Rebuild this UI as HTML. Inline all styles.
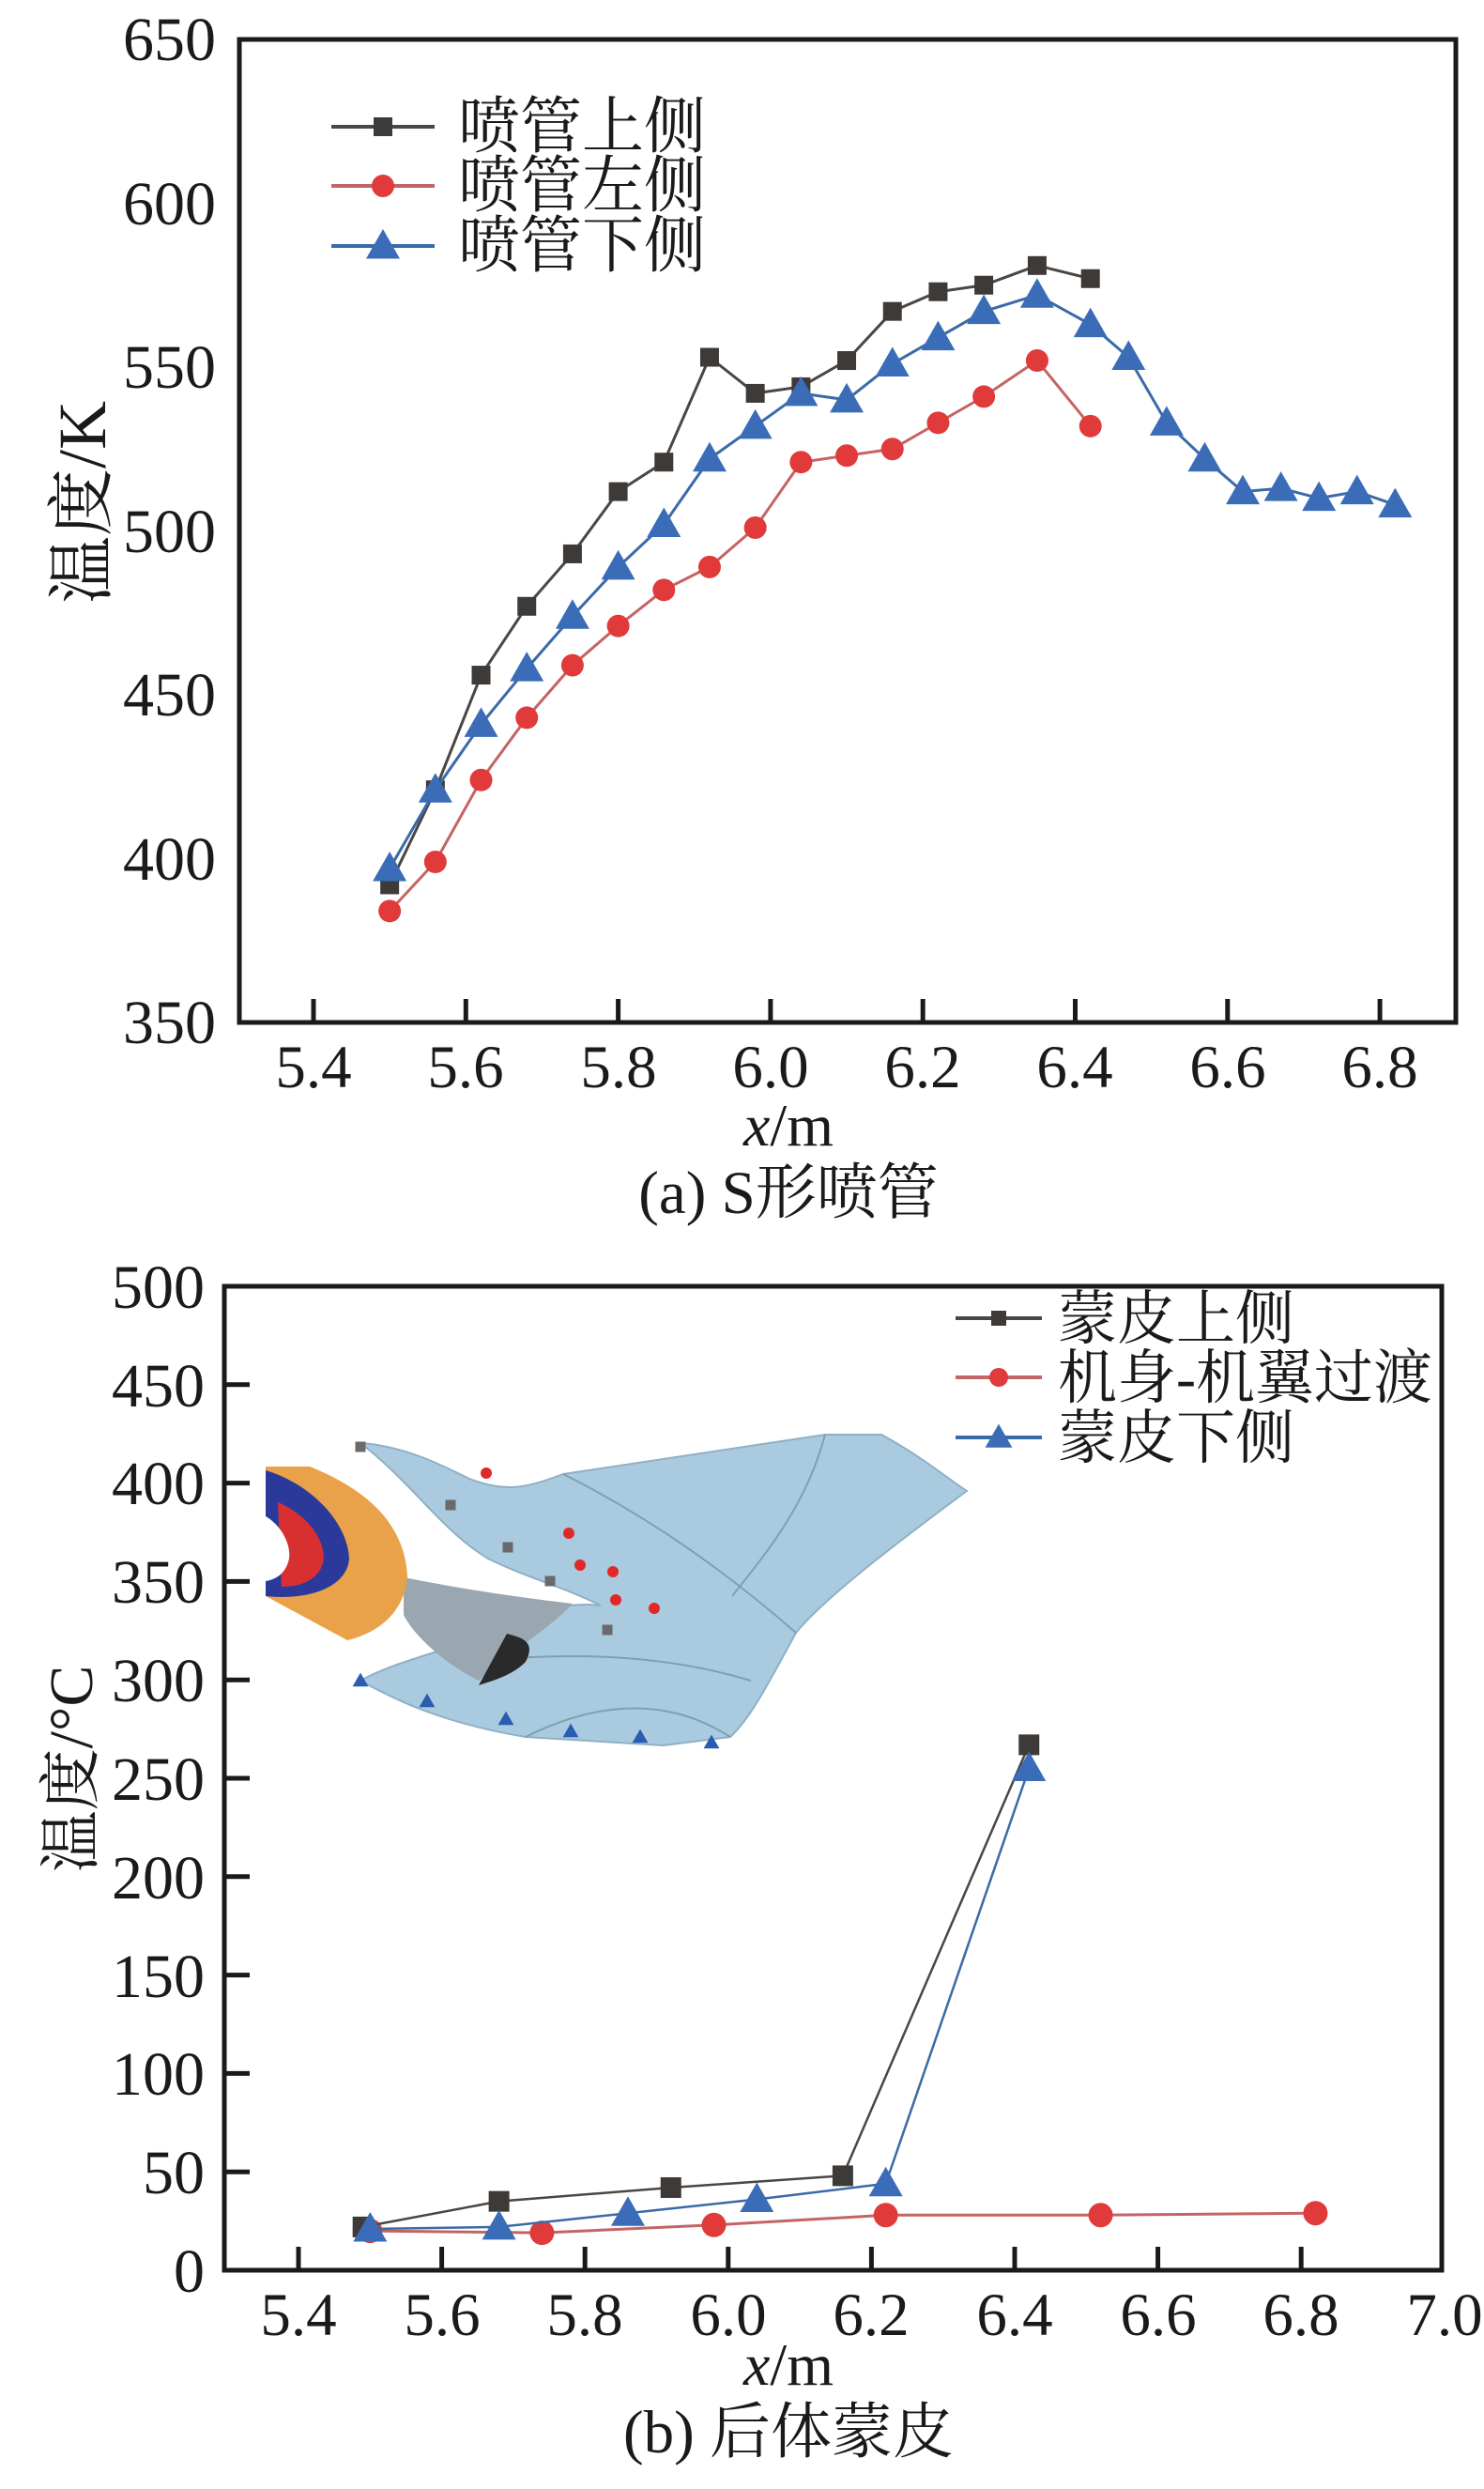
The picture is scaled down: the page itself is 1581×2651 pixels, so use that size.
<!DOCTYPE html>
<html><head><meta charset="utf-8"><style>
html,body{margin:0;padding:0;background:#fff;}
svg{display:block;}
text{font-family:"Liberation Serif","Noto Serif CJK SC",serif;fill:#1a1a1a;}
.cj{font-family:"Liberation Serif","Noto Serif CJK SC","Noto Sans CJK SC",serif;}
</style></head><body>
<svg id="s" width="1581" height="2651" viewBox="0 0 1581 2651" xmlns="http://www.w3.org/2000/svg">
<rect x="255" y="42" width="1296" height="1047" fill="none" stroke="#1a1a1a" stroke-width="5"/>
<g font-size="66" text-anchor="end">
<text x="230" y="64">650</text><text x="230" y="239">600</text><text x="230" y="413">550</text>
<text x="230" y="588">500</text><text x="230" y="762">450</text><text x="230" y="937">400</text><text x="230" y="1111">350</text>
</g>
<g font-size="65" text-anchor="middle">
<text x="334" y="1158">5.4</text><text x="496" y="1158">5.6</text><text x="659" y="1158">5.8</text>
<text x="821" y="1158">6.0</text><text x="983" y="1158">6.2</text><text x="1145" y="1158">6.4</text>
<text x="1308" y="1158">6.6</text><text x="1470" y="1158">6.8</text>
</g>
<text x="840" y="1220" font-size="64" text-anchor="middle"><tspan font-style="italic">x</tspan>/m</text>
<text class="cj" x="840" y="1292" font-size="65" text-anchor="middle">(a) S形喷管</text>
<text class="cj" x="0" y="0" font-size="72" text-anchor="middle" transform="translate(112,535) rotate(-90)">温度/K</text>
<g class="cj" font-size="66">
<text x="488" y="157">喷管上侧</text><text x="488" y="220">喷管左侧</text><text x="488" y="284">喷管下侧</text>
</g>

<rect x="239" y="1370" width="1297" height="1048" fill="none" stroke="#1a1a1a" stroke-width="5"/>
<g font-size="66" text-anchor="end">
<text x="218" y="1393">500</text><text x="218" y="1498">450</text><text x="218" y="1602">400</text>
<text x="218" y="1707">350</text><text x="218" y="1812">300</text><text x="218" y="1917">250</text>
<text x="218" y="2022">200</text><text x="218" y="2127">150</text><text x="218" y="2231">100</text>
<text x="218" y="2336">50</text><text x="218" y="2441">0</text>
</g>
<g font-size="65" text-anchor="middle">
<text x="318" y="2487">5.4</text><text x="471" y="2487">5.6</text><text x="623" y="2487">5.8</text>
<text x="776" y="2487">6.0</text><text x="928" y="2487">6.2</text><text x="1081" y="2487">6.4</text>
<text x="1234" y="2487">6.6</text><text x="1386" y="2487">6.8</text><text x="1539" y="2487">7.0</text>
</g>
<text x="840" y="2540" font-size="64" text-anchor="middle"><tspan font-style="italic">x</tspan>/m</text>
<text class="cj" x="840" y="2612" font-size="65" text-anchor="middle">(b) 后体蒙皮</text>
<text class="cj" x="0" y="0" font-size="66" text-anchor="middle" transform="translate(98,1884) rotate(-90)">温度/°C</text>

<g>
<path d="M384,1537 C430,1540 470,1560 500,1575 C540,1590 560,1585 600,1570 L879,1528 L939,1528 C980,1550 1010,1575 1030,1588 C960,1640 880,1700 848,1739 C820,1790 800,1830 778,1850 L707,1859 L560,1850 C470,1835 420,1810 384,1790 C420,1770 470,1760 520,1740 C560,1720 600,1705 640,1710 C600,1690 560,1680 520,1660 C470,1630 440,1580 384,1537 Z" fill="#a9cadf" stroke="#8fb0c6" stroke-width="2"/>
<path d="M600,1570 C700,1620 780,1680 848,1739 M560,1850 C620,1820 700,1800 778,1850 M500,1770 C600,1760 700,1760 800,1790 M879,1528 C860,1600 820,1650 780,1700" fill="none" stroke="#7f9fb5" stroke-width="2"/>
<path d="M430,1680 C480,1690 540,1700 610,1708 C580,1740 540,1760 510,1790 C470,1770 440,1740 430,1720 Z" fill="#9aa6b0"/>
<path d="M540,1740 C560,1745 570,1750 560,1770 C545,1785 525,1790 510,1795 Z" fill="#2a2a2a"/>
<path d="M283,1562 L330,1562 C400,1590 432,1630 434,1680 C430,1720 400,1740 370,1747 L283,1700 Z" fill="#e9a24a"/>
<path d="M283,1566 C330,1580 370,1620 372,1660 C370,1690 330,1705 283,1700 Z" fill="#2b3a9a"/>
<path d="M296,1600 C330,1615 345,1640 345,1660 C342,1680 325,1690 300,1690 Z" fill="#d83030"/>
<path d="M283,1615 C300,1625 310,1645 308,1660 C305,1675 295,1682 283,1684 Z" fill="#fff"/>
</g>
<g id="dyn"></g>
<g class="cj" font-size="63">
<text x="1127" y="1426">蒙皮上侧</text><text x="1127" y="1489">机身-机翼过渡</text><text x="1127" y="1553">蒙皮下侧</text>
</g>
</svg>
<script>
var NS="http://www.w3.org/2000/svg",g=document.getElementById("dyn");
function el(t,a){var e=document.createElementNS(NS,t);for(var k in a)e.setAttribute(k,a[k]);g.appendChild(e);return e;}
function mk(type,x,y,s,c){
 if(type=="s")el("rect",{x:x-s/2,y:y-s/2,width:s,height:s,fill:c});
 else if(type=="c")el("circle",{cx:x,cy:y,r:s/2,fill:c});
 else el("polygon",{points:(x)+","+(y-s*0.6)+" "+(x-s*0.6)+","+(y+s*0.45)+" "+(x+s*0.6)+","+(y+s*0.45),fill:c});
}
for(var i=0;i<8;i++){var x=334+i*162.3;el("line",{x1:x,y1:1089,x2:x,y2:1064,stroke:"#1a1a1a","stroke-width":5});}
for(var i=0;i<8;i++){var x=318+i*152.6;el("line",{x1:x,y1:2418,x2:x,y2:2393,stroke:"#1a1a1a","stroke-width":5});}
for(var i=1;i<10;i++){var y=2418-i*104.8;el("line",{x1:239,y1:y,x2:266,y2:y,stroke:"#1a1a1a","stroke-width":5});}
var BK="#3d3a38",RD="#e03a3a",BL="#3a6cb8",BKL="#4a4644",RDL="#c46464",BLL="#3a6aa8";
function XA(v){return 334+(v-5.4)/0.2*162.3;}function YA(v){return 1089-(v-350)*3.49;}
function XB(v){return 318+(v-5.4)/0.2*152.6;}function YB(v){return 2418-v*2.096;}
function series(d,X,Y,lc,mc,t,s,w){var p=d.map(function(q){return X(q[0])+","+Y(q[1]);}).join(" ");
 el("polyline",{points:p,fill:"none",stroke:lc,"stroke-width":w});d.forEach(function(q){mk(t,X(q[0]),Y(q[1]),s,mc);});}
var a1=[[5.50,392],[5.56,421],[5.62,456],[5.68,477],[5.74,493],[5.80,512],[5.86,521],[5.92,553],[5.98,542],[6.04,544],[6.10,552],[6.16,567],[6.22,573],[6.28,575],[6.35,581],[6.42,577]];
var a2=[[5.50,384],[5.56,399],[5.62,424],[5.68,443],[5.74,459],[5.80,471],[5.86,482],[5.92,489],[5.98,501],[6.04,521],[6.10,523],[6.16,525],[6.22,533],[6.28,541],[6.35,552],[6.42,532]];
var a3=[[5.50,397],[5.56,421],[5.62,441],[5.68,458],[5.74,474],[5.80,489],[5.86,502],[5.92,522],[5.98,532],[6.04,542],[6.10,540],[6.16,551],[6.22,559],[6.28,567],[6.35,572],[6.42,563],[6.47,553],[6.52,533],[6.57,522],[6.62,512],[6.67,513],[6.72,510],[6.77,512],[6.82,508]];
series(a1,XA,YA,BKL,BK,"s",20,3);series(a2,XA,YA,RDL,RD,"c",24,3);series(a3,XA,YA,BLL,BL,"t",30,3);
var b1=[[5.49,22],[5.68,35],[5.92,42],[6.16,48],[6.42,267]];
var b2=[[5.50,20],[5.74,19],[5.98,23],[6.22,28],[6.52,28],[6.82,29]];
var b3=[[5.50,21],[5.68,22],[5.86,29],[6.04,36],[6.22,44],[6.42,255]];
series(b2,XB,YB,RDL,RD,"c",26,3);series(b1,XB,YB,BKL,BK,"s",22,2.5);series(b3,XB,YB,BLL,BL,"t",30,2.5);
[[135,BKL,BK,"s",20],[198,RDL,RD,"c",24],[262,BLL,BL,"t",30]].forEach(function(r){el("line",{x1:353,y1:r[0],x2:463,y2:r[0],stroke:r[1],"stroke-width":4});mk(r[3],408,r[0],r[4],r[2]);});
[[1404,BKL,BK,"s",16],[1467,RDL,RD,"c",20],[1531,BLL,BL,"t",24]].forEach(function(r){el("line",{x1:1018,y1:r[0],x2:1110,y2:r[0],stroke:r[1],"stroke-width":4});mk(r[3],1064,r[0],r[4],r[2]);});
[[384,1541],[480,1603],[541,1648],[586,1684],[647,1736]].forEach(function(p){mk("s",p[0],p[1],11,"#6a6a6a");});
[[518,1569],[606,1633],[618,1667],[653,1674],[656,1704],[697,1713]].forEach(function(p){mk("c",p[0],p[1],12,"#e02828");});
[[384,1790],[455,1812],[539,1831],[608,1844],[682,1850],[758,1856]].forEach(function(p){mk("t",p[0],p[1],14,"#2a5cb0");});
</script>
</body></html>
